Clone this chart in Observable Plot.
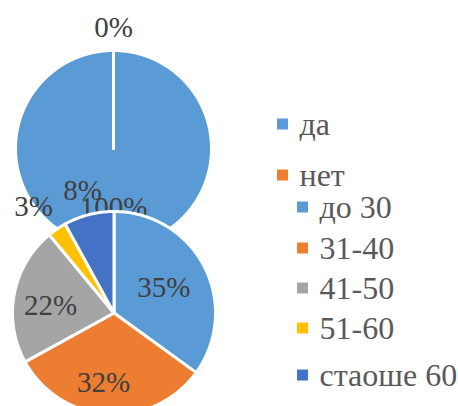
<!DOCTYPE html>
<html><head><meta charset="utf-8">
<script src="https://cdn.jsdelivr.net/npm/d3@7"></script>
<script src="https://cdn.jsdelivr.net/npm/@observablehq/plot@0.6"></script>
<style>html,body{margin:0;padding:0;background:#fff;overflow:hidden}
#chart svg text{font-family:"Liberation Serif","Times New Roman",serif !important}</style>
</head><body><div id="chart"></div>
<script>
// ---- data ----
const answerLabels = ["да", "нет"];
const answerValues = [100, 0];
const ageLabels = ["до 30", "31-40", "41-50", "51-60", "стаоше 60"];
const ageValues = [35, 32, 22, 3, 8];

// ---- styles / layout ----
const answerColors = ["#5B9BD5", "#ED7D31"];
const ageColors = ["#5B9BD5", "#ED7D31", "#A5A5A5", "#FFC000", "#4472C4"];
const W = 458, H = 406;
const topPie = {cx: 113, cy: 148, r: 98, labelR: [0.6, 1.235], labelA: [0, 0]};
const botPie = {cx: 113.5, cy: 312.5, r: 101.5, labelR: [0.55, 0.69, 0.63, 1.31, 1.24], labelA: [0, 5, -4, -3, 0]};
const legend1 = {sx: 277, tx: 299, base: [134, 185]};
const legend2 = {sx: 297, tx: 319, base: [217, 258, 298, 338, 385]};
const SQ = 11, SQOFF = 10;
const font = "'Liberation Serif', 'Times New Roman', serif";

function pieGeometry(labels, values, colors, g, prefix) {
  const arcs = d3.pie().sort(null).value(d => d)(values);
  const pts = [], labs = [];
  const total = d3.sum(values);
  arcs.forEach((a, i) => {
    const key = prefix + i;
    pts.push({key, x: g.cx, y: g.cy, c: colors[i]});
    const n = Math.max(2, Math.ceil((a.endAngle - a.startAngle) / 0.01));
    for (let k = 0; k <= n; k++) {
      const t = a.startAngle + (a.endAngle - a.startAngle) * k / n;
      pts.push({key, x: g.cx + g.r * Math.sin(t), y: g.cy - g.r * Math.cos(t), c: colors[i]});
    }
    pts.push({key, x: g.cx, y: g.cy, c: colors[i]});
    const m = (a.startAngle + a.endAngle) / 2 + g.labelA[i] * Math.PI / 180, rr = g.r * g.labelR[i];
    labs.push({x: g.cx + rr * Math.sin(m), y: g.cy - rr * Math.cos(m), text: Math.round(values[i] / total * 100) + "%"});
  });
  return {pts, labs};
}

const pieA = pieGeometry(answerLabels, answerValues, answerColors, topPie, "a");
const pieB = pieGeometry(ageLabels, ageValues, ageColors, botPie, "b");

const leg1 = answerLabels.map((l, i) => ({label: l, c: answerColors[i], x: legend1.sx, tx: legend1.tx, y: legend1.base[i]}));
const leg2 = ageLabels.map((l, i) => ({label: l, c: ageColors[i], x: legend2.sx, tx: legend2.tx, y: legend2.base[i]}));
const legAll = leg1.concat(leg2);

const sliceOpts = {x: "x", y: "y", z: "key", fill: "c", stroke: "white", strokeWidth: 3, strokeLinejoin: "round", curve: "linear"};
const labelOpts = {x: "x", y: "y", text: "text", fontSize: 29, fontFamily: font, fill: "#404040", lineAnchor: "middle", textAnchor: "middle"};

const chart = Plot.plot({
  width: W, height: H, margin: 0,
  x: {domain: [0, W], axis: null},
  y: {domain: [0, H], reverse: true, axis: null},
  color: {type: "identity"},
  marks: [
    Plot.line(pieA.pts, sliceOpts),
    Plot.text(pieA.labs, labelOpts),
    Plot.line(pieB.pts, sliceOpts),
    Plot.text(pieB.labs, labelOpts),
    Plot.rect(legAll, {x1: "x", x2: d => d.x + SQ, y1: d => d.y - SQOFF - SQ / 2, y2: d => d.y - SQOFF + SQ / 2, fill: "c"}),
    Plot.text(legAll, {x: "tx", y: "y", text: "label", fontSize: 32, fontFamily: font, fill: "#595959", textAnchor: "start", lineAnchor: "bottom"})
  ]
});
document.getElementById("chart").appendChild(chart);
</script>
</body></html>
